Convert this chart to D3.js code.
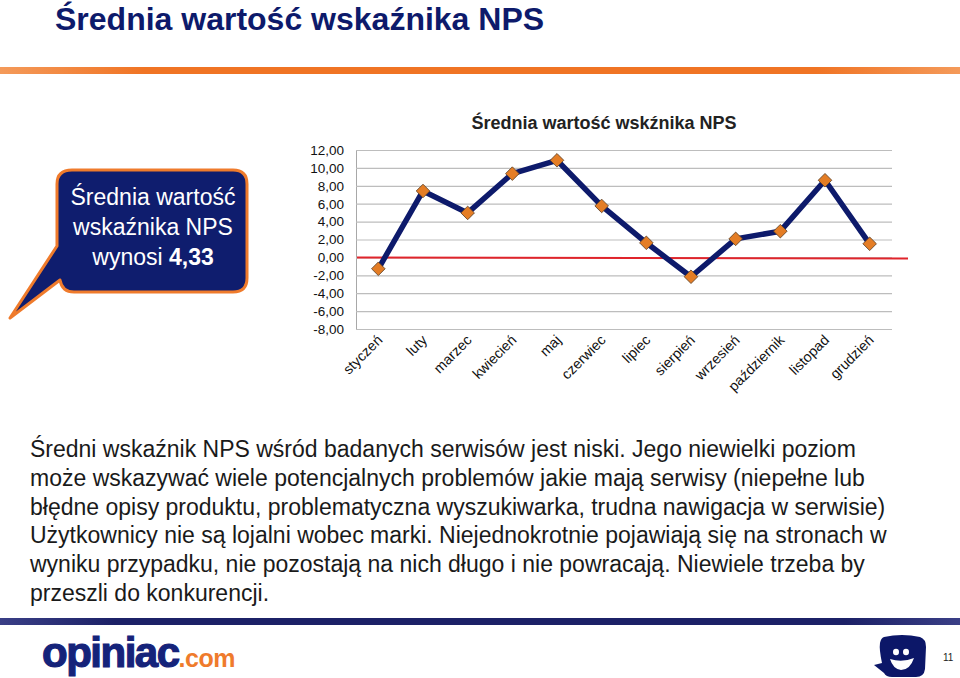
<!DOCTYPE html>
<html>
<head>
<meta charset="utf-8">
<script src="https://cdn.jsdelivr.net/npm/d3@7"></script>
<style>
  html, body { margin: 0; padding: 0; background: #fff; }
  svg { display: block; font-family: 'Liberation Sans', Arial, sans-serif; }
</style>
</head>
<body>
<svg id="slide" width="960" height="678"></svg>
<script>
// chart data
const months = ['styczeń', 'luty', 'marzec', 'kwiecień', 'maj', 'czerwiec',
  'lipiec', 'sierpień', 'wrzesień', 'październik', 'listopad', 'grudzień'];
const npsValues = [-1.27, 7.42, 4.97, 9.36, 10.85, 5.75, 1.63, -2.16, 2.07, 2.93, 8.62, 1.52];
const yTicks = [12, 10, 8, 6, 4, 2, 0, -2, -4, -6, -8];
const baseline = [0];

const slideTitle = 'Średnia wartość wskaźnika NPS';
const chartTitle = 'Średnia wartość wskźnika NPS';
const bubbleLines = ['Średnia wartość', 'wskaźnika NPS'];
const bubbleValue = '4,33';
const bodyLines = [
  'Średni wskaźnik NPS wśród badanych serwisów jest niski. Jego niewielki poziom',
  'może wskazywać wiele potencjalnych problemów jakie mają serwisy (niepełne lub',
  'błędne opisy produktu, problematyczna wyszukiwarka, trudna nawigacja w serwisie)',
  'Użytkownicy nie są lojalni wobec marki. Niejednokrotnie pojawiają się na stronach w',
  'wyniku przypadku, nie pozostają na nich długo i nie powracają. Niewiele trzeba by',
  'przeszli do konkurencji.'
];

const navy = '#0d1a6b';
const orange = '#ef7b2c';

const svg = d3.select('#slide');
const defs = svg.append('defs');

const og = defs.append('linearGradient').attr('id', 'orangeBar');
og.append('stop').attr('offset', '0%').attr('stop-color', '#f49a5a');
og.append('stop').attr('offset', '15%').attr('stop-color', '#f07424');
og.append('stop').attr('offset', '85%').attr('stop-color', '#f07424');
og.append('stop').attr('offset', '100%').attr('stop-color', '#f49a5a');

const ng = defs.append('linearGradient').attr('id', 'navyBar');
ng.append('stop').attr('offset', '0%').attr('stop-color', '#3a3f86');
ng.append('stop').attr('offset', '12%').attr('stop-color', '#1c2167');
ng.append('stop').attr('offset', '88%').attr('stop-color', '#1c2167');
ng.append('stop').attr('offset', '100%').attr('stop-color', '#3a3f86');

// header
svg.append('text')
  .attr('x', 55).attr('y', 30)
  .attr('font-size', 32).attr('font-weight', 'bold')
  .attr('fill', navy)
  .text(slideTitle);

svg.append('rect').attr('x', 0).attr('y', 67).attr('width', 960).attr('height', 7)
  .attr('fill', 'url(#orangeBar)');

// speech bubble
const bubble = svg.append('g');
bubble.append('path')
  .attr('d', 'M72,170 H233 Q247,170 247,184 V278 Q247,292 233,292 H74 Q62,292 60,280 L10,318 L57,246 V184 Q57,170 72,170 Z')
  .attr('fill', '#0f1d6e')
  .attr('stroke', orange).attr('stroke-width', 3).attr('stroke-linejoin', 'round');

bubble.selectAll('text.bl')
  .data(bubbleLines)
  .join('text')
  .attr('class', 'bl')
  .attr('x', 153).attr('y', (d, i) => 205 + i * 30)
  .attr('text-anchor', 'middle')
  .attr('font-size', 23).attr('fill', '#fff')
  .text(d => d);

const last = bubble.append('text')
  .attr('x', 153).attr('y', 265)
  .attr('text-anchor', 'middle')
  .attr('font-size', 23).attr('fill', '#fff');
last.append('tspan').text('wynosi ');
last.append('tspan').attr('font-weight', 'bold').text(bubbleValue);

// chart
const plot = { left: 356, right: 892, top: 150, bottom: 329 };

const x = d3.scaleBand().domain(months).range([plot.left, plot.right]);
const y = d3.scaleLinear().domain([-8, 12]).range([plot.bottom, plot.top]);

svg.append('text')
  .attr('x', 604).attr('y', 129)
  .attr('text-anchor', 'middle')
  .attr('font-size', 18).attr('font-weight', 'bold').attr('fill', '#222')
  .text(chartTitle);

const yAxis = svg.append('g')
  .attr('transform', `translate(${plot.left},0)`)
  .call(d3.axisLeft(y).tickValues(yTicks).tickSize(-(plot.right - plot.left)).tickPadding(12)
    .tickFormat(d => d3.format('.2f')(d).replace('.', ',').replace('−', '-')));
yAxis.select('.domain').attr('stroke', '#a8a8a8');
yAxis.selectAll('.tick line').attr('stroke', '#bdbdbd').attr('stroke-width', 1.2);
yAxis.selectAll('.tick text')
  .attr('font-size', 13.5).attr('fill', '#111')
  .attr('font-family', "'Liberation Sans', Arial, sans-serif");

// zero reference line
svg.selectAll('line.zero')
  .data(baseline)
  .join('line')
  .attr('class', 'zero')
  .attr('x1', plot.left + 1).attr('x2', 908)
  .attr('y1', d => y(d)).attr('y2', d => y(d) + 1)
  .attr('stroke', '#e0242b').attr('stroke-width', 2);

const cx = d => x(d) + x.bandwidth() / 2;

const line = d3.line()
  .x((d, i) => cx(months[i]))
  .y(d => y(d));

svg.append('path')
  .datum(npsValues)
  .attr('d', line)
  .attr('fill', 'none')
  .attr('stroke', navy).attr('stroke-width', 5.5)
  .attr('stroke-linejoin', 'round');

svg.selectAll('rect.marker')
  .data(npsValues)
  .join('rect')
  .attr('class', 'marker')
  .attr('x', -4.8).attr('y', -4.8).attr('width', 9.6).attr('height', 9.6)
  .attr('transform', (d, i) => `translate(${cx(months[i])},${y(d)}) rotate(45)`)
  .attr('fill', '#e47d25')
  .attr('stroke', '#5e4228').attr('stroke-width', 0.8);

// x labels
svg.append('g')
  .selectAll('text')
  .data(months)
  .join('text')
  .attr('transform', d => `translate(${cx(d) + 5},${341}) rotate(-45)`)
  .attr('text-anchor', 'end')
  .attr('font-size', 14.3).attr('fill', '#111')
  .text(d => d);

// body text
svg.append('g')
  .selectAll('text')
  .data(bodyLines)
  .join('text')
  .attr('x', 30).attr('y', (d, i) => 457 + i * 28.8)
  .attr('font-size', 23).attr('fill', '#1a1a1a')
  .text(d => d);

// footer
svg.append('rect').attr('x', 0).attr('y', 618).attr('width', 960).attr('height', 7)
  .attr('fill', 'url(#navyBar)');

const logo = svg.append('text')
  .attr('x', 42).attr('y', 667)
  .attr('font-weight', 'bold');
logo.append('tspan').attr('font-size', 42).attr('fill', '#15237a')
  .attr('stroke', '#15237a').attr('stroke-width', 1.2)
  .attr('letter-spacing', -1.5).text('opiniac');
logo.append('tspan').attr('font-size', 25).attr('fill', orange).attr('letter-spacing', -0.5).text('.com');

// mascot
const m = svg.append('g').attr('transform', 'translate(872,635)');
m.append('path')
  .attr('d', 'M12,2 Q30,-2 48,2 Q54,4 54,12 L53,34 Q52,42 44,42 L20,42 Q14,42 12,38 L2,30 L10,28 Q7,14 8,8 Q9,3 12,2 Z')
  .attr('fill', '#0c1768');
m.append('ellipse').attr('cx', 24).attr('cy', 17).attr('rx', 3).attr('ry', 3.2).attr('fill', '#fff');
m.append('ellipse').attr('cx', 34).attr('cy', 17).attr('rx', 3).attr('ry', 3.2).attr('fill', '#fff');
m.append('path')
  .attr('d', 'M18,24 Q30,28 42,23 Q38,35 29,35 Q21,34 18,24 Z')
  .attr('fill', '#fff');

svg.append('text')
  .attr('x', 943).attr('y', 661)
  .attr('font-size', 10).attr('fill', '#222')
  .text('11');
</script>
</body>
</html>
